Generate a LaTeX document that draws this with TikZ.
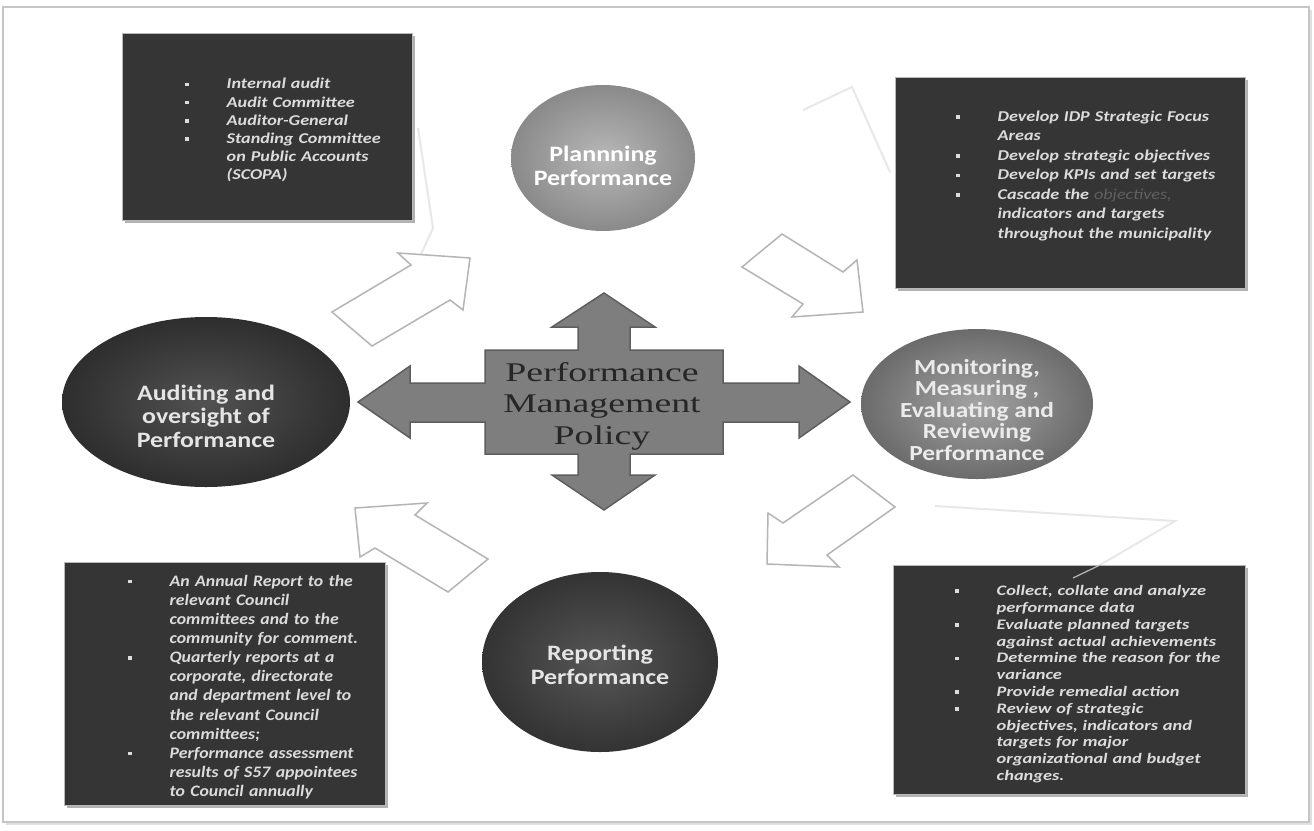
\documentclass[tikz,border=0pt]{standalone}
\usepackage{fontspec}
\setmainfont{Carlito}
\newfontfamily\serifc[FakeStretch=1.4]{Liberation Serif}
\newfontfamily\ellfont[FakeStretch=1.18]{Carlito}
\newfontfamily\fA[FakeStretch=1.21]{Carlito}
\newfontfamily\fB[FakeStretch=1.11]{Carlito}
\newfontfamily\fC[FakeStretch=1.27]{Carlito}
\usetikzlibrary{shapes.geometric,shadows}
\definecolor{boxfill}{HTML}{353535}
\definecolor{boxtext}{HTML}{DCDCDC}
\definecolor{arrowline}{HTML}{B4B4B4}
\definecolor{faint}{HTML}{E8E8E8}
\definecolor{crossfill}{HTML}{7E7E7E}
\definecolor{crossedge}{HTML}{5E5E5E}
\newcommand\bulletsq{\rule[0.18em]{3.5pt}{3.5pt}}
\newcommand\itm[1]{\par\hangindent=41.5pt\hangafter=1\noindent\hbox to 41.5pt{\bulletsq\hfil}#1\par}
\tikzset{
  darkbox/.style={draw=gray!55, line width=0.8pt, fill=boxfill, anchor=north west, inner sep=0pt,
    drop shadow={shadow xshift=3pt, shadow yshift=-3pt, fill=black, opacity=0.3}},
  boxtxt/.style={anchor=north west, inner sep=0pt, text width=330pt, text=boxtext},
  ell/.style={ellipse, inner sep=0pt},
  elltxt/.style={align=center, inner sep=0pt, font=\ellfont\bfseries\fontsize{22}{23.5}\selectfont},
  blockarrow/.style={draw=arrowline, line width=1.5pt, line join=miter, fill=white},
  faintline/.style={draw=faint, line width=2pt}
}
\begin{document}
\begin{tikzpicture}[x=1pt,y=-1pt]
\useasboundingbox (0,0) rectangle (1314,830);
\fill[white] (0,0) rectangle (1314,830);
% outer frame
\fill[black!12] (6,10) rectangle (1312,825);
\draw[gray!45, line width=1.2pt, fill=white] (3,7) rectangle (1309,822);

% faint reflection lines
\draw[faintline] (418,128) -- (433,228) -- (417,263);
\draw[faintline] (803,110) -- (852,87) -- (890,172);
\draw[faintline] (935,506) -- (1175,521) -- (1100,565);

% text boxes
\node[darkbox, minimum width=290pt, minimum height=187pt] (tlbox) at (122,33) {};
\node[darkbox, minimum width=350pt, minimum height=211pt] (trbox) at (895,77) {};
\node[darkbox, minimum width=321pt, minimum height=243pt] (blbox) at (64,562) {};
\node[darkbox, minimum width=352pt, minimum height=229pt] (brbox) at (893,565) {};

\draw[draw=gray!55, line width=1.2pt] (1100,565) -- (1073,578);

\node[boxtxt, font=\fA\bfseries\itshape\fontsize{15}{18.2}\selectfont] (tltxt) at (185,70.5) {\raggedright
\itm{Internal audit}\itm{Audit Committee}\itm{Auditor-General}\itm{Standing Committee\newline on Public Accounts\newline (SCOPA)}};

\node[boxtxt, font=\fA\bfseries\itshape\fontsize{15}{19.5}\selectfont] (trtxt) at (956,101.5) {\raggedright
\itm{Develop IDP Strategic Focus\newline Areas}\itm{Develop strategic objectives}\itm{Develop KPIs and set targets}%
\itm{Cascade the \textcolor{gray!75!black}{\mdseries objectives,}\newline indicators and targets\newline throughout the municipality}};

\node[boxtxt, font=\fB\bfseries\itshape\fontsize{16}{19.1}\selectfont] (bltxt) at (128,567) {\raggedright
\itm{An Annual Report to the\newline relevant Council\newline committees and to the\newline community for comment.}%
\itm{Quarterly reports at a\newline corporate, directorate\newline and department level to\newline the relevant Council\newline committees;}%
\itm{Performance assessment\newline results of S57 appointees\newline to Council annually}};

\node[boxtxt, font=\fC\bfseries\itshape\fontsize{14.5}{16.8}\selectfont] (brtxt) at (955,578.6) {\raggedright
\itm{Collect, collate and analyze\newline performance data}\itm{Evaluate planned targets\newline against actual achievements}%
\itm{Determine the reason for the\newline variance}\itm{Provide remedial action}%
\itm{Review of strategic\newline objectives, indicators and\newline targets for major\newline organizational and budget\newline changes.}};

% ellipses
\node[ell, minimum width=184pt, minimum height=146pt, shade, inner color=black!28, outer color=black!46] (plan) at (603,158) {};
\node[ell, minimum width=232pt, minimum height=150pt, shade, inner color=black!36, outer color=black!58] (mon) at (977,404) {};
\node[ell, minimum width=288pt, minimum height=170pt, shade, inner color=black!68, outer color=black!82] (aud) at (206,402) {};
\node[ell, minimum width=236pt, minimum height=180pt, shade, inner color=black!66, outer color=black!80] (rep) at (600,662) {};

\node[elltxt, text=white] (plantxt) at (603,166) {Plannning\\Performance};
\node[elltxt, text=white!92!black, font=\ellfont\bfseries\fontsize{21.5}{21.5}\selectfont] (montxt) at (977,410) {Monitoring,\\Measuring ,\\Evaluating and\\Reviewing\\Performance};
\node[elltxt, text=white!90!black] (audtxt) at (206,416) {Auditing and\\oversight of\\Performance};
\node[elltxt, text=white!90!black] (reptxt) at (600,665) {Reporting\\Performance};

% outline block arrows
\draw[blockarrow] (332,312) -- (411,265) -- (398,253) -- (470,258) -- (463,310) -- (450,300) -- (372,346) -- cycle;
\draw[blockarrow] (742,267) -- (782,234) -- (843,272) -- (857,260) -- (863,312) -- (792,317) -- (803,304) -- cycle;
\draw[blockarrow] (853,475) -- (895,507) -- (827,555) -- (839,567) -- (767,564) -- (768,513) -- (783,523) -- cycle;
\draw[blockarrow] (355,508) -- (427,503) -- (415,515) -- (488,559) -- (448,592) -- (375,548) -- (360,557) -- cycle;

% central cross
\draw[fill=crossfill, draw=crossedge, line width=1.5pt, line join=miter]
  (604,293) -- (655,327) -- (630,327) -- (630,350) -- (723,350) -- (723,383) -- (799,383) -- (799,366) -- (850,402) -- (799,438) -- (799,422) -- (723,422) -- (723,454) -- (630,454) -- (630,475) -- (655,475) -- (604,510) -- (552,475) -- (578,475) -- (578,454) -- (485,454) -- (485,422) -- (410,422) -- (410,438) -- (358,402) -- (410,366) -- (410,383) -- (485,383) -- (485,350) -- (578,350) -- (578,327) -- (552,327) -- cycle;
\node[align=center, inner sep=0pt, text=black!85, font=\serifc\fontsize{27}{31.5}\selectfont] (policy) at (602,406) {Performance\\Management\\Policy};
\end{tikzpicture}
\end{document}
